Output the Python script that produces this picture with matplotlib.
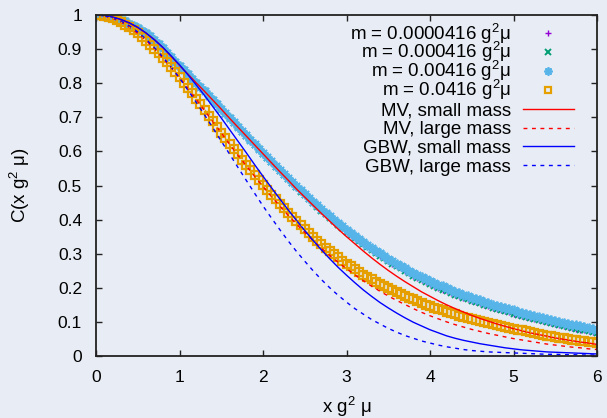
import numpy as np
import matplotlib
matplotlib.use('Agg')
from matplotlib import pyplot as plt
from matplotlib.lines import Line2D

plt.rcParams['font.family'] = ['Liberation Sans', 'DejaVu Sans']
plt.rcParams['mathtext.fontset'] = 'custom'
plt.rcParams['mathtext.rm'] = 'Liberation Sans'
plt.rcParams['mathtext.it'] = 'Liberation Sans:italic'
plt.rcParams['font.size'] = 13

# sample positions, x g^2 mu
x_pts = np.round(np.arange(121) * 0.05, 2)   # lattice points
x_fit = np.round(np.arange(61) * 0.1, 1)     # model curves

# m = 0.0416 g^2 mu (orange squares)
m4 = [1.000, 0.999, 0.997, 0.994, 0.990, 0.985, 0.979, 0.972, 0.964, 0.955,
      0.946, 0.936, 0.925, 0.913, 0.901, 0.888, 0.875, 0.861, 0.847, 0.832,
      0.817, 0.802, 0.786, 0.770, 0.754, 0.738, 0.721, 0.705, 0.688, 0.672,
      0.655, 0.639, 0.623, 0.607, 0.591, 0.576, 0.560, 0.545, 0.530, 0.515,
      0.501, 0.487, 0.473, 0.459, 0.446, 0.433, 0.420, 0.407, 0.395, 0.383,
      0.371, 0.360, 0.349, 0.338, 0.328, 0.318, 0.308, 0.298, 0.289, 0.280,
      0.271, 0.263, 0.255, 0.247, 0.239, 0.232, 0.225, 0.218, 0.211, 0.205,
      0.199, 0.193, 0.187, 0.181, 0.176, 0.171, 0.166, 0.161, 0.156, 0.151,
      0.147, 0.142, 0.138, 0.134, 0.130, 0.126, 0.122, 0.118, 0.115, 0.111,
      0.108, 0.105, 0.102, 0.099, 0.096, 0.093, 0.090, 0.087, 0.085, 0.082,
      0.080, 0.077, 0.075, 0.072, 0.070, 0.067, 0.065, 0.063, 0.060, 0.058,
      0.056, 0.054, 0.052, 0.050, 0.048, 0.046, 0.045, 0.043, 0.041, 0.040,
      0.038]

# m = 0.00416 g^2 mu (cyan stars)
m3 = [1.000, 0.999, 0.998, 0.996, 0.994, 0.990, 0.986, 0.981, 0.975, 0.969,
      0.962, 0.954, 0.946, 0.937, 0.927, 0.915, 0.902, 0.890, 0.877, 0.863,
      0.850, 0.838, 0.826, 0.813, 0.800, 0.788, 0.776, 0.763, 0.750, 0.738,
      0.725, 0.712, 0.699, 0.686, 0.673, 0.660, 0.647, 0.634, 0.621, 0.608,
      0.596, 0.583, 0.571, 0.558, 0.546, 0.534, 0.522, 0.510, 0.498, 0.486,
      0.475, 0.464, 0.453, 0.442, 0.431, 0.420, 0.410, 0.400, 0.390, 0.380,
      0.370, 0.361, 0.352, 0.343, 0.334, 0.325, 0.317, 0.309, 0.301, 0.293,
      0.285, 0.278, 0.271, 0.264, 0.257, 0.250, 0.244, 0.238, 0.232, 0.226,
      0.220, 0.214, 0.209, 0.204, 0.199, 0.194, 0.189, 0.184, 0.180, 0.175,
      0.171, 0.167, 0.163, 0.159, 0.155, 0.151, 0.148, 0.144, 0.141, 0.137,
      0.134, 0.130, 0.127, 0.124, 0.121, 0.118, 0.115, 0.112, 0.109, 0.106,
      0.103, 0.100, 0.098, 0.095, 0.092, 0.090, 0.087, 0.085, 0.082, 0.080,
      0.077]

# m = 0.000416 g^2 mu (green crosses)
m2 = [1.000, 0.999, 0.998, 0.996, 0.994, 0.990, 0.986, 0.981, 0.975, 0.969,
      0.962, 0.954, 0.946, 0.937, 0.927, 0.915, 0.902, 0.890, 0.877, 0.863,
      0.850, 0.838, 0.826, 0.813, 0.800, 0.788, 0.776, 0.763, 0.750, 0.738,
      0.723, 0.710, 0.697, 0.684, 0.671, 0.658, 0.645, 0.632, 0.619, 0.606,
      0.593, 0.580, 0.568, 0.555, 0.543, 0.531, 0.519, 0.507, 0.495, 0.482,
      0.471, 0.460, 0.449, 0.437, 0.426, 0.415, 0.405, 0.395, 0.385, 0.375,
      0.364, 0.355, 0.346, 0.337, 0.328, 0.319, 0.311, 0.302, 0.294, 0.286,
      0.278, 0.271, 0.264, 0.257, 0.250, 0.243, 0.236, 0.230, 0.224, 0.218,
      0.212, 0.206, 0.200, 0.195, 0.190, 0.185, 0.180, 0.175, 0.171, 0.166,
      0.162, 0.158, 0.154, 0.150, 0.146, 0.142, 0.139, 0.135, 0.132, 0.128,
      0.124, 0.120, 0.117, 0.114, 0.111, 0.108, 0.105, 0.102, 0.099, 0.096,
      0.093, 0.090, 0.088, 0.085, 0.082, 0.080, 0.077, 0.075, 0.072, 0.070,
      0.067]

# m = 0.0000416 g^2 mu (purple plus): fully hidden under the green points,
# so the best reading is the green one
m1 = list(m2)

mv_small = [1.000, 0.998, 0.994, 0.986, 0.976, 0.963, 0.947, 0.928, 0.905, 0.879,
            0.852, 0.827, 0.801, 0.776, 0.750, 0.724, 0.697, 0.671, 0.645, 0.619,
            0.593, 0.567, 0.541, 0.516, 0.490, 0.466, 0.442, 0.418, 0.395, 0.372,
            0.350, 0.329, 0.308, 0.288, 0.269, 0.251, 0.234, 0.218, 0.203, 0.188,
            0.175, 0.162, 0.150, 0.139, 0.129, 0.119, 0.110, 0.102, 0.094, 0.087,
            0.080, 0.074, 0.068, 0.063, 0.058, 0.053, 0.049, 0.045, 0.041, 0.038,
            0.034]

mv_large = [1.000, 0.997, 0.990, 0.979, 0.964, 0.946, 0.925, 0.901, 0.874, 0.846,
            0.816, 0.785, 0.753, 0.720, 0.687, 0.654, 0.621, 0.589, 0.558, 0.527,
            0.497, 0.468, 0.440, 0.413, 0.387, 0.362, 0.338, 0.316, 0.295, 0.275,
            0.256, 0.238, 0.221, 0.205, 0.190, 0.176, 0.163, 0.151, 0.139, 0.128,
            0.118, 0.109, 0.100, 0.092, 0.085, 0.078, 0.072, 0.066, 0.061, 0.056,
            0.051, 0.047, 0.043, 0.039, 0.035, 0.032, 0.029, 0.026, 0.024, 0.021,
            0.019]

gbw_small = [1.000, 0.998, 0.994, 0.987, 0.977, 0.964, 0.947, 0.927, 0.905, 0.880,
             0.854, 0.825, 0.795, 0.764, 0.731, 0.698, 0.664, 0.630, 0.596, 0.561,
             0.527, 0.494, 0.461, 0.429, 0.398, 0.368, 0.339, 0.311, 0.285, 0.260,
             0.237, 0.215, 0.194, 0.175, 0.157, 0.141, 0.126, 0.112, 0.099, 0.088,
             0.077, 0.068, 0.059, 0.052, 0.046, 0.041, 0.036, 0.032, 0.028, 0.024,
             0.021, 0.018, 0.016, 0.014, 0.012, 0.011, 0.010, 0.009, 0.008, 0.007,
             0.006]

gbw_large = [1.000, 0.998, 0.992, 0.982, 0.968, 0.950, 0.929, 0.904, 0.877, 0.847,
             0.815, 0.780, 0.744, 0.707, 0.669, 0.630, 0.592, 0.553, 0.515, 0.477,
             0.440, 0.405, 0.371, 0.338, 0.307, 0.278, 0.250, 0.224, 0.200, 0.178,
             0.158, 0.139, 0.123, 0.107, 0.094, 0.081, 0.070, 0.060, 0.052, 0.044,
             0.038, 0.032, 0.027, 0.023, 0.019, 0.016, 0.014, 0.012, 0.011, 0.010,
             0.009, 0.008, 0.007, 0.006, 0.005, 0.005, 0.004, 0.004, 0.003, 0.003,
             0.003]

labels = ['m = 0.0000416 g$^2$μ', 'm = 0.000416 g$^2$μ', 'm = 0.00416 g$^2$μ',
          'm = 0.0416 g$^2$μ', 'MV, small mass', 'MV, large mass',
          'GBW, small mass', 'GBW, large mass']
xticks = [0, 1, 2, 3, 4, 5, 6]
yticks = [0, 0.1, 0.2, 0.3, 0.4, 0.5, 0.6, 0.7, 0.8, 0.9, 1]
ytick_labels = ['0', '0.1', '0.2', '0.3', '0.4', '0.5', '0.6', '0.7', '0.8', '0.9', '1']

bg = '#e8edf5'
W, H = 607, 418
X0, X1, Y0, Y1 = 96, 597, 356, 15   # axes box in pixels

fig = plt.figure(figsize=(W/100, H/100), dpi=100, facecolor=bg)
ax = fig.add_axes([X0/W, 1-Y0/H, (X1-X0)/W, (Y0-Y1)/H], facecolor=bg)

def ax_frac(xp, yp):
    # pixel position -> axes fraction (used for the gnuplot style key)
    return (xp - X0) / (X1 - X0), (Y0 - yp) / (Y0 - Y1)

orange = '#e69f00'
styles = [
    dict(ls='none', marker='+', ms=5, mew=1, color='#9400d3'),
    dict(ls='none', marker='x', ms=5, mew=1.4, color='#009e73'),
    dict(ls='none', marker=(8, 2, 0), ms=7, mew=1.3, color='#56b4e9'),
    dict(ls='none', marker='s', ms=5.5, mew=1.6, mfc='none', color=orange),
    dict(ls='-', lw=1, color='#ff0000'),
    dict(ls='--', lw=1, color='#ff0000', dashes=(2.8, 3.3)),
    dict(ls='-', lw=1, color='#0000ff'),
    dict(ls='--', lw=1, color='#0000ff', dashes=(2.8, 3.3)),
]
series = [m1, m2, m3, m4, mv_small, mv_large, gbw_small, gbw_large]
xs = [x_pts] * 4 + [x_fit] * 4

for xv, ys, st in zip(xs, series, styles):
    ax.plot(xv, ys, **st)
# centre dot of the gnuplot box symbol
ax.plot(x_pts, m4, ls='none', marker='s', ms=1, mew=0, color=orange)

ax.set_xlim(0, 6)
ax.set_ylim(0, 1)
ax.set_xticks(xticks)
ax.set_yticks(yticks)
ax.set_yticklabels(ytick_labels)
ax.tick_params(direction='in', length=4, width=1, top=True, right=True,
               labelsize=12.5, colors='#222222', labelcolor='black', pad=10)
for s in ax.spines.values():
    s.set_linewidth(1.3)
    s.set_color('#222222')

ax.set_xlabel('x g$^2$ μ', fontsize=13.5)
ax.set_ylabel('C(x g$^2$ μ)', fontsize=13.5)
ax.xaxis.set_label_coords(0.5, -0.114)
ax.yaxis.set_label_coords(-0.128, 0.5)

# key, gnuplot style: right aligned text, sample on the right
key_styles = [dict(st) for st in styles]
key_styles[2]['ms'] = 6
key_styles[3]['ms'] = 5
for i, (lab, st) in enumerate(zip(labels, key_styles)):
    yp = 33 + 18.9 * i
    tx, ty = ax_frac(511, yp + 6.5)
    ax.text(tx, ty, lab, ha='right', va='baseline', fontsize=13.5, transform=ax.transAxes)
    if st['ls'] == 'none':
        mx, my = ax_frac(548, yp)
        ax.add_line(Line2D([mx], [my], transform=ax.transAxes, clip_on=False, **st))
    else:
        ax_a, ay = ax_frac(523, yp)
        ax_b, _ = ax_frac(574, yp)
        ax.add_line(Line2D([ax_a, ax_b], [ay, ay], transform=ax.transAxes, clip_on=False, **st))

fig.savefig('out.png', dpi=100, facecolor=bg)
